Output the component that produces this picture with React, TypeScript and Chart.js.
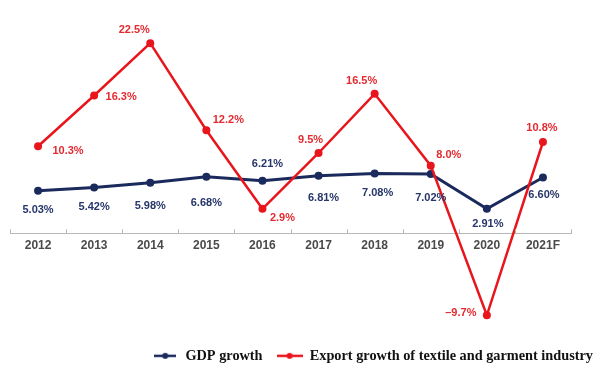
import React, { useEffect, useRef } from "react";
import { Chart, registerables } from "chart.js";

Chart.register(...registerables);

const years = ["2012", "2013", "2014", "2015", "2016", "2017", "2018", "2019", "2020", "2021F"];
const gdpGrowth = [5.03, 5.42, 5.98, 6.68, 6.21, 6.81, 7.08, 7.02, 2.91, 6.6];
const exportGrowth = [10.3, 16.3, 22.5, 12.2, 2.9, 9.5, 16.5, 8.0, -9.7, 10.8];
const gdpLabels = ["5.03%", "5.42%", "5.98%", "6.68%", "6.21%", "6.81%", "7.08%", "7.02%", "2.91%", "6.60%"];
const exportLabels = ["10.3%", "16.3%", "22.5%", "12.2%", "2.9%", "9.5%", "16.5%", "8.0%", "\u20139.7%", "10.8%"];

// label placement relative to each point (style only)
const gdpLabelShift = [[0, 19], [0, 19], [0, 23], [0, 26], [5, -17], [5, 22], [3, 20], [0, 24], [1, 15], [1, 17]];
const exportLabelShift = [[30, 5], [27, 1], [-16, -13], [22, -10], [20, 9], [-8, -13], [-13, -13], [18, -11], [-26, -2], [-1, -14]];

const NAVY = "#1b2a5c";
const RED = "#e8161c";

function makeMarker(color: string, w: number) {
  const c = document.createElement("canvas");
  c.width = w;
  c.height = 10;
  const ctx = c.getContext("2d")!;
  ctx.strokeStyle = color;
  ctx.lineWidth = 2.5;
  ctx.beginPath();
  ctx.moveTo(0, 5);
  ctx.lineTo(w, 5);
  ctx.stroke();
  ctx.fillStyle = color;
  ctx.beginPath();
  ctx.arc(w / 2, 5, 3, 0, Math.PI * 2);
  ctx.fill();
  return c;
}

const labelPlugin = {
  id: "valueLabels",
  afterDatasetsDraw(chart: any) {
    const ctx = chart.ctx;
    const sets = [
      { idx: 0, texts: gdpLabels, shift: gdpLabelShift, color: "#26356a" },
      { idx: 1, texts: exportLabels, shift: exportLabelShift, color: "#e42a30" },
    ];
    ctx.save();
    ctx.font = "bold 11px 'Liberation Sans', Arial, sans-serif";
    ctx.textAlign = "center";
    ctx.textBaseline = "middle";
    sets.forEach((s) => {
      const meta = chart.getDatasetMeta(s.idx);
      meta.data.forEach((pt: any, i: number) => {
        ctx.fillStyle = s.color;
        ctx.fillText(s.texts[i], pt.x + s.shift[i][0], pt.y + s.shift[i][1]);
      });
    });
    ctx.restore();
  },
};

const tickPlugin = {
  id: "upTicks",
  afterDatasetsDraw(chart: any) {
    const x = chart.scales.x;
    const y0 = chart.scales.y.getPixelForValue(0);
    const n = years.length;
    const step = (x.right - x.left) / n;
    const ctx = chart.ctx;
    ctx.save();
    ctx.strokeStyle = "#b8b8b8";
    ctx.lineWidth = 1;
    ctx.beginPath();
    for (let i = 0; i <= n; i++) {
      const px = Math.round(x.left + i * step) + 0.5;
      ctx.moveTo(px, y0);
      ctx.lineTo(px, y0 - 4);
    }
    ctx.stroke();
    ctx.restore();
  },
};

export default function App() {
  const ref = useRef<HTMLCanvasElement>(null);
  useEffect(() => {
    if (!ref.current) return;
    const chart = new Chart(ref.current, {
      type: "line",
      data: {
        labels: years,
        datasets: [
          {
            label: "GDP growth",
            data: gdpGrowth,
            borderColor: NAVY,
            backgroundColor: NAVY,
            borderWidth: 3,
            pointRadius: 4,
            pointBackgroundColor: NAVY,
            pointBorderWidth: 0,
            tension: 0,
            order: 1,
          } as any,
          {
            label: "Export growth of textile and garment industry",
            data: exportGrowth,
            borderColor: RED,
            backgroundColor: RED,
            borderWidth: 2.5,
            pointRadius: 4,
            pointBackgroundColor: RED,
            pointBorderWidth: 0,
            tension: 0,
            order: 0,
          } as any,
        ],
      },
      options: {
        responsive: true,
        maintainAspectRatio: false,
        animation: false,
        layout: { padding: { top: 22, left: 10, right: -7, bottom: 4 } },
        plugins: {
          tooltip: { enabled: false },
          legend: {
            display: true,
            position: "bottom",
            align: "end",
            labels: {
              usePointStyle: true,
              pointStyleWidth: 26,
              color: "#111",
              padding: 14,
              font: { family: "'Liberation Serif', 'Times New Roman', serif", size: 14.3, weight: "bold" },
              sort: (a: any, b: any) => a.datasetIndex - b.datasetIndex,
              generateLabels: (chart: any) =>
                chart.data.datasets.map((ds: any, i: number) => ({
                  text: ds.label,
                  fillStyle: ds.borderColor,
                  strokeStyle: ds.borderColor,
                  pointStyle: i === 0 ? makeMarker(NAVY, 22) : makeMarker(RED, 26),
                  fontColor: "#111",
                  lineWidth: 0,
                  hidden: false,
                  datasetIndex: i,
                })),
            },
          },
        },
        elements: {
          point: { pointStyle: "circle" },
        },
        scales: {
          x: {
            position: { y: 0 } as any,
            offset: true,
            grid: { display: true, drawOnChartArea: false, drawTicks: false, offset: true, color: "#b8b8b8" },
            border: { display: true, color: "#b8b8b8", width: 1 },
            ticks: {
              color: "#4a4a4a",
              padding: 5,
              font: { family: "'Liberation Sans', Arial, sans-serif", size: 12, weight: "bold" },
            },
          },
          y: {
            display: true,
            position: "right",
            min: -12,
            max: 25,
            grid: { display: false, drawTicks: false },
            border: { display: false },
            ticks: { display: false },
            afterFit: (s: any) => {
              s.width = 36;
            },
          },
        },
      },
      plugins: [labelPlugin, tickPlugin],
    });
    return () => chart.destroy();
  }, []);
  return (
    <div style={{ position: "absolute", left: 0, top: 0, width: 600, height: 377, background: "#fff" }}>
      <canvas ref={ref} />
    </div>
  );
}
